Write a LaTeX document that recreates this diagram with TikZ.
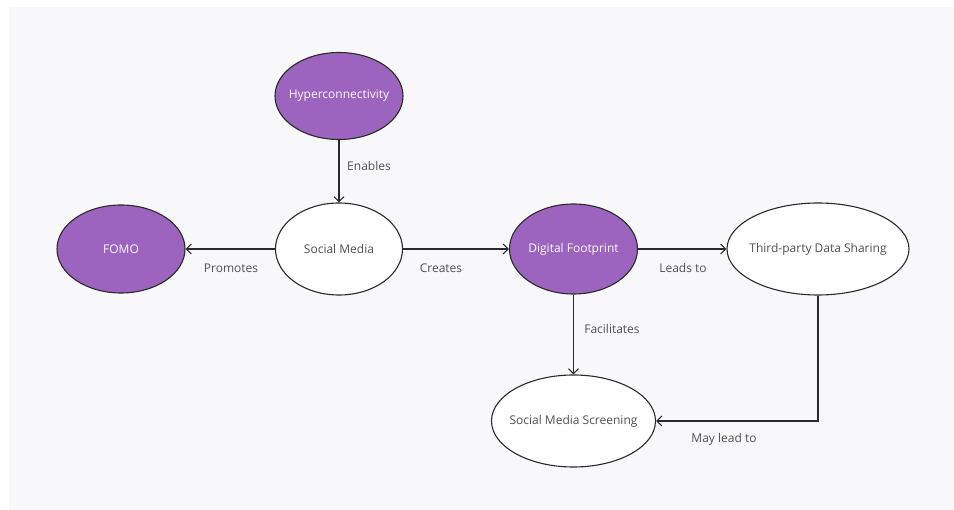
\documentclass[tikz,border=0pt]{standalone}
\usepackage{fontspec}
\setmainfont{Open Sans}
\usetikzlibrary{arrows.meta,shapes.geometric}
\definecolor{bgc}{HTML}{F8F8FA}
\definecolor{purp}{HTML}{9C64BE}
\definecolor{edgec}{HTML}{2A2A2A}
\definecolor{txtc}{HTML}{505050}
\newcommand\zwbox[1]{\makebox[0pt]{#1}}
\begin{document}
\begin{tikzpicture}[x=1pt,y=-1pt,
  every node/.style={font=\fontsize{12}{14}\selectfont},
  bubble/.style={ellipse, draw=edgec, line width=1.1pt, inner sep=0pt},
  purpnode/.style={bubble, fill=purp, text=white!96!purp},
  whitenode/.style={bubble, fill=white, text=txtc},
  link/.style={draw=edgec, line width=1.1pt, -{Straight Barb[length=5pt,width=10pt,line width=1.1pt]}},
  lbl/.style={text=txtc}]
\useasboundingbox (0,0) rectangle (954,510);
\fill[bgc] (9,7) rectangle (954,510);
\node[purpnode, minimum width=128pt, minimum height=87pt] (hyper) at (339,96) {\zwbox{Hyperconnectivity}};
\node[purpnode, minimum width=128pt, minimum height=88pt] (fomo) at (121,249) {\zwbox{FOMO}};
\node[whitenode, minimum width=127pt, minimum height=92pt] (social) at (339,249) {\zwbox{Social Media}};
\node[purpnode, minimum width=128pt, minimum height=90pt] (digital) at (573.5,249) {\zwbox{Digital Footprint}};
\node[whitenode, minimum width=182pt, minimum height=92pt] (third) at (818,249) {\zwbox{Third-party Data Sharing}};
\node[whitenode, minimum width=164pt, minimum height=92pt] (screen) at (573.5,421) {\zwbox{Social Media Screening}};
\coordinate (corner) at (818,421);
\draw[link] (hyper) -- (social);
\draw[link] (social) -- (fomo);
\draw[link] (social) -- (digital);
\draw[link] (digital) -- (third);
\draw[link] (digital.south) -- (screen.north);
\draw[link] (third.south) -- (corner) -- (screen.east);
\node[lbl] (l1) at (369,166) {Enables};
\node[lbl] (l2) at (231,268) {Promotes};
\node[lbl] (l3) at (441,268) {Creates};
\node[lbl] (l4) at (683,268) {Leads to};
\node[lbl] (l5) at (612,329) {Facilitates};
\node[lbl] (l6) at (724,439) {May lead to};
\end{tikzpicture}
\end{document}
